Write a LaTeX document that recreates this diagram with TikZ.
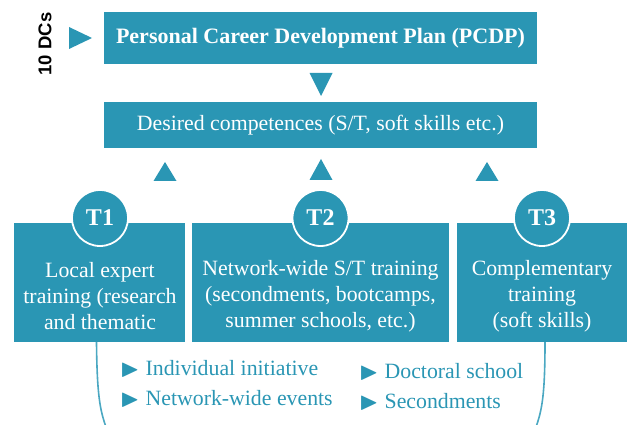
\documentclass[tikz,border=0pt]{standalone}
\usepackage{amssymb}
\usepackage{fontspec}
\setmainfont{Liberation Serif}
\newfontfamily\labelsans{Liberation Sans}
\definecolor{teal1}{HTML}{2A96B4}
\definecolor{teal2}{HTML}{4BA8C2}
\newcommand{\bul}{{\fontsize{25}{25}\selectfont\raisebox{-1pt}{$\blacktriangleright$}}\hspace{6pt}}
\begin{document}
\begin{tikzpicture}[x=1pt,y=-1pt,
  box/.style={fill=teal1, text=white, inner sep=0pt, align=center},
  circ/.style={circle, fill=teal1, draw=white, line width=1.8pt, minimum size=56pt, inner sep=0pt, text=white, font=\fontsize{24}{26}\selectfont\bfseries},
  tri/.style={fill=teal1},
  item/.style={anchor=west, text=teal1, font=\fontsize{21.8}{24}\selectfont, inner sep=0pt},
  bracket/.style={draw=teal2, line width=1.6pt}]
\useasboundingbox (0,0) rectangle (627,425);
% top box
\node[box, minimum width=433pt, minimum height=52pt, font=\fontsize{22}{24}\selectfont\bfseries] (pcdp) at (320.5,38) {Personal Career Development Plan (PCDP)};
\node[box, minimum width=433pt, minimum height=46pt, font=\fontsize{21.8}{24}\selectfont] (comp) at (320.5,125) {Desired competences (S/T, soft skills etc.)};
\node[rotate=90, font=\labelsans\fontsize{18.5}{20}\selectfont\bfseries, inner sep=0pt] (dcs) at (45,44) {10 DCs};
% triangles
\fill[tri] (69,27) -- (92,38) -- (69,49) -- cycle;
\fill[tri] (309.5,73) -- (332.5,73) -- (321,96) -- cycle;
\fill[tri] (165,162) -- (176.5,181) -- (153.5,181) -- cycle;
\fill[tri] (321,159) -- (332.5,180) -- (309.5,180) -- cycle;
\fill[tri] (487,162) -- (498.5,181) -- (475.5,181) -- cycle;
% bottom boxes
\node[box, minimum width=171pt, minimum height=119pt] (t1) at (99.5,282.5) {};
\node[box, minimum width=257pt, minimum height=119pt] (t2) at (320.5,282.5) {};
\node[box, minimum width=170pt, minimum height=119pt] (t3) at (542,282.5) {};
\node[box, fill=none, font=\fontsize{21.8}{26}\selectfont] (t1txt) at (100,296) {Local expert\\training (research\\and thematic};
\node[box, fill=none, font=\fontsize{21.8}{26}\selectfont] (t2txt) at (320.5,296) {Network-wide S/T training\\(secondments, bootcamps,\\summer schools, etc.)};
\node[box, fill=none, font=\fontsize{21.8}{26}\selectfont] (t3txt) at (542,296) {Complementary\\training\\(soft skills)};
\node[circ] (c1) at (100,218) {T1};
\node[circ] (c2) at (320.5,218) {T2};
\node[circ] (c3) at (542,218) {T3};
% bracket
\draw[bracket] ([xshift=-3pt]t1.south) .. controls (97,395) and (100,410) .. (106,427);
\draw[bracket] ([xshift=3pt]t3.south) .. controls (545,395) and (542,410) .. (536,427);
% items
\node[item] (i1) at (120,369) {\bul Individual initiative};
\node[item] (i2) at (120,399) {\bul Network-wide events};
\node[item] (i3) at (359,372) {\bul Doctoral school};
\node[item] (i4) at (359,402) {\bul Secondments};
\end{tikzpicture}
\end{document}
